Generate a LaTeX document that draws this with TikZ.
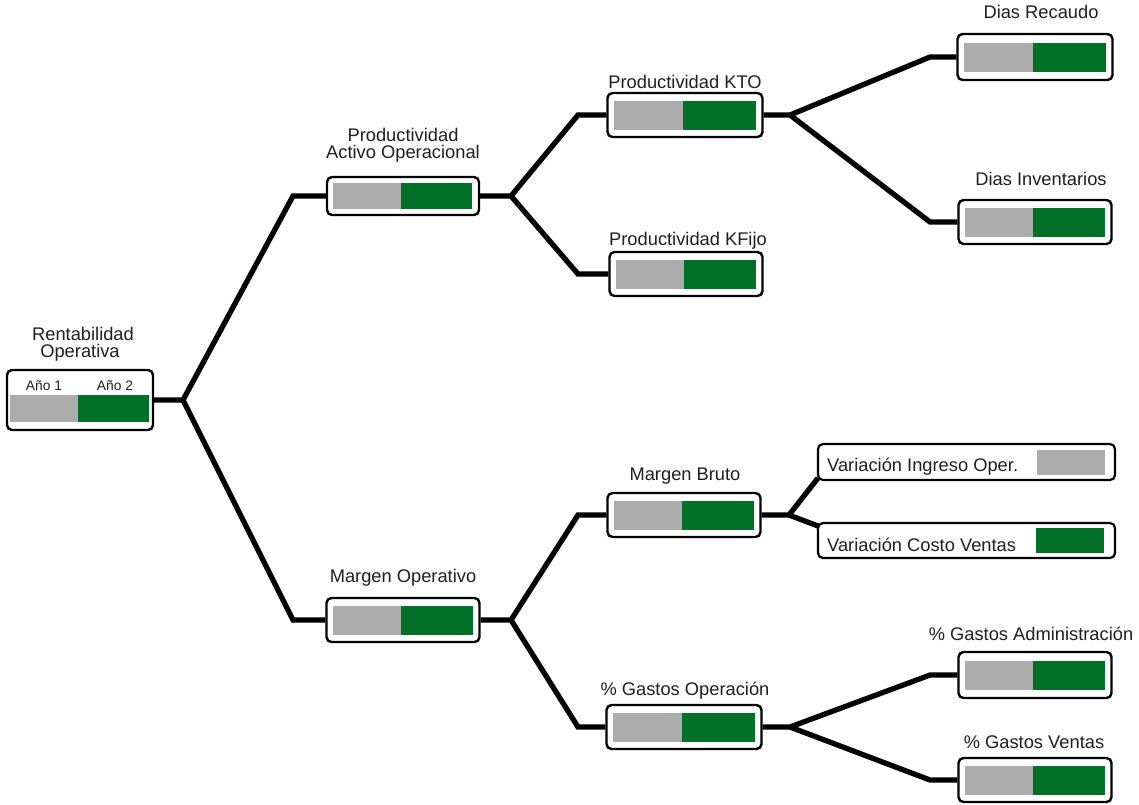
\documentclass[tikz,border=0pt]{standalone}
\usepackage{fontspec}
\setmainfont{Liberation Sans}
\usetikzlibrary{calc}
\definecolor{barGray}{RGB}{172,172,172}
\definecolor{barGreen}{RGB}{0,112,38}
\begin{document}
\begin{tikzpicture}[x=1pt,y=-1pt,
  kpi/.style={draw=black, line width=2.4pt, rounded corners=5pt, fill=white,
    minimum width=153pt, minimum height=44pt, inner sep=0pt,
    path picture={
      \fill[barGray, sharp corners] ([xshift=6pt,yshift=-14.5pt]path picture bounding box.west) rectangle ([xshift=-2pt,yshift=14.5pt]path picture bounding box.center);
      \fill[barGreen, sharp corners] ([xshift=-2pt,yshift=-14.5pt]path picture bounding box.center) rectangle ([xshift=-7pt,yshift=14.5pt]path picture bounding box.east);
    }},
  pao/.style={kpi, minimum width=152pt, minimum height=38pt,
    path picture={
      \fill[barGray, sharp corners] ([xshift=6pt,yshift=-13pt]path picture bounding box.west) rectangle ([xshift=-2pt,yshift=13pt]path picture bounding box.center);
      \fill[barGreen, sharp corners] ([xshift=-2pt,yshift=-13pt]path picture bounding box.center) rectangle ([xshift=-7pt,yshift=13pt]path picture bounding box.east);
    }},
  rootbox/.style={draw=black, line width=2.4pt, rounded corners=5pt, fill=white,
    minimum width=146pt, minimum height=60pt, inner sep=0pt,
    path picture={
      \fill[barGray, sharp corners] ([xshift=3pt,yshift=-22pt]path picture bounding box.west) rectangle ([xshift=-2pt,yshift=5pt]path picture bounding box.center);
      \fill[barGreen, sharp corners] ([xshift=-2pt,yshift=-22pt]path picture bounding box.center) rectangle ([xshift=-4pt,yshift=5pt]path picture bounding box.east);
    }},
  varbox/.style={draw=black, line width=2.2pt, rounded corners=5pt, fill=white,
    minimum width=297pt, minimum height=36pt, inner sep=0pt},
  swatch/.style={minimum width=68pt, minimum height=25pt, inner sep=0pt},
  ttl/.style={font=\fontsize{18.3}{19}\selectfont, inner sep=0pt, anchor=base, text=black!88},
  yr/.style={font=\fontsize{13.8}{14}\selectfont, inner sep=0pt, anchor=base, text=black!88},
  conn/.style={line width=5.3pt, line join=miter, draw=black}
]
\useasboundingbox[fill=white] (0,0) rectangle (1139,804);

% boxes
\node[rootbox] (root) at (80,400) {};
\node[pao] (PAO) at (403,196) {};
\node[kpi] (MO) at (403,620) {};
\node[kpi, minimum width=155pt] (KTO) at (685,115) {};
\node[kpi] (KF) at (686,274) {};
\node[kpi] (MB) at (684,515) {};
\node[kpi, minimum width=155pt] (GO) at (684,727) {};
\node[kpi, minimum width=155pt, minimum height=46pt] (DR) at (1035,57) {};
\node[kpi] (DI) at (1035,222) {};
\node[kpi, minimum height=46pt] (GA) at (1035,675) {};
\node[kpi] (GV) at (1035,780) {};
\node[varbox] (VI) at (966.5,462) {};
\node[varbox, minimum height=35pt] (VC) at (966.5,540.5) {};
\node[swatch, fill=barGray] (VIs) at (1071,462.5) {};
\node[swatch, fill=barGreen] (VCs) at (1070,540.5) {};
\node[ttl, anchor=base west] (VIt) at (827,471) {Variación Ingreso Oper.};
\node[ttl, anchor=base west] (VCt) at (827,551) {Variación Costo Ventas};

% titles
\node[ttl] (tRootA) at (83,340) {Rentabilidad};
\node[ttl] (tRootB) at (80,357) {Operativa};
\node[yr] (y1) at (44,390) {Año 1};
\node[yr] (y2) at (115,390) {Año 2};
\node[ttl] (tPAOa) at (403,141) {Productividad};
\node[ttl] (tPAOb) at (403,158) {Activo Operacional};
\node[ttl] (tMO) at (403,582) {Margen Operativo};
\node[ttl] (tKTO) at (685,88) {Productividad KTO};
\node[ttl] (tKF) at (688,245) {Productividad KFijo};
\node[ttl] (tMB) at (685,480) {Margen Bruto};
\node[ttl] (tGO) at (685,695) {\% Gastos Operación};
\node[ttl] (tDR) at (1041,18) {Dias Recaudo};
\node[ttl] (tDI) at (1041,185) {Dias Inventarios};
\node[ttl] (tGA) at (1031,640) {\% Gastos Administración};
\node[ttl] (tGV) at (1034,748) {\% Gastos Ventas};

% junction coordinates
\coordinate (J0) at (183,400);
\coordinate (a1) at (293,196);
\coordinate (a2) at (293,620);
\coordinate (J1) at (511,196);
\coordinate (b1) at (578,115);
\coordinate (b2) at (578,274);
\coordinate (J2) at (511,620);
\coordinate (c1) at (578,515);
\coordinate (c2) at (578,727);
\coordinate (J3) at (790,115);
\coordinate (d1) at (930,57);
\coordinate (d2) at (930,222);
\coordinate (J4) at (789,515);
\coordinate (e1) at (818,478);
\coordinate (e2) at (818,526);
\coordinate (J5) at (790,727);
\coordinate (f1) at (930,675);
\coordinate (f2) at (930,780);

% connectors
\draw[conn] (root.east) -- (J0) -- (a1) -- (PAO.west);
\draw[conn] (J0) -- (a2) -- (MO.west);
\draw[conn] (PAO.east) -- (J1) -- (b1) -- (KTO.west);
\draw[conn] (J1) -- (b2) -- (KF.west);
\draw[conn] (MO.east) -- (J2) -- (c1) -- (MB.west);
\draw[conn] (J2) -- (c2) -- (GO.west);
\draw[conn] (KTO.east) -- (J3) -- (d1) -- (DR.west);
\draw[conn] (J3) -- (d2) -- (DI.west);
\draw[conn] (MB.east) -- (J4) -- (e1);
\draw[conn] (J4) -- (e2);
\draw[conn] (GO.east) -- (J5) -- (f1) -- (GA.west);
\draw[conn] (J5) -- (f2) -- (GV.west);
\end{tikzpicture}
\end{document}
